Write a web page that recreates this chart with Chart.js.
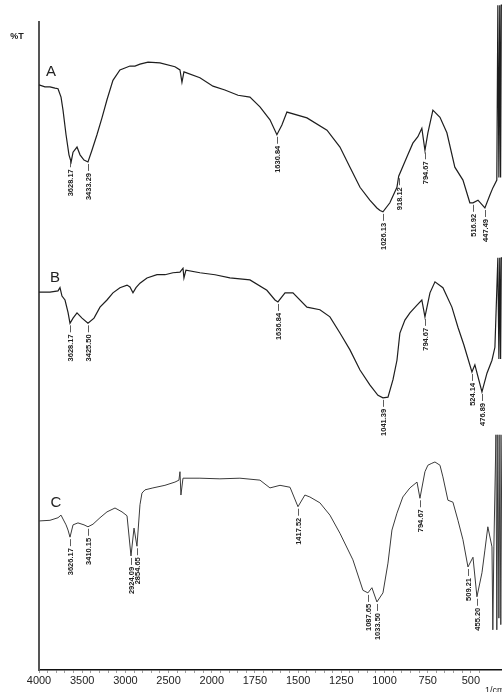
<!DOCTYPE html>
<html><head><meta charset="utf-8">
<script src="https://cdn.jsdelivr.net/npm/chart.js@4/dist/chart.umd.min.js"></script>
<style>html,body{margin:0;padding:0;background:#fff;overflow:hidden}#wrap{width:502px;height:692px;position:relative}</style>
</head><body><div id="wrap"><canvas id="c"></canvas></div>
<script>
// ---- data (wavenumber in 1/cm, transmittance in arbitrary %T units) ----
const majorTicks = [4000,3500,3000,2500,2000,1750,1500,1250,1000,750,500];
const seriesNames = ['A','B','C'];

const wnA = [4000,3931,3873,3815,3780,3745,3722,3687,3653,3628,3606,3560,3525,3479,3433,3387,3329,3271,3213,3144,3063,3005,2947,2889,2831,2738,2600,2426,2368,2345,2322,2137,1993,1924,1848,1779,1721,1663,1623,1594,1565,1449,1333,1258,1200,1142,1085,1044,1026,1009,969,928,918,870,836,807,784,766,749,720,679,639,593,546,506,488,459,419,390,373,350,344,338,333,328,324,320];
const tA  = [90.3,90.0,90.0,89.8,89.7,88.4,86.4,82.6,79.5,78.4,79.9,80.7,79.5,78.7,78.4,80.2,82.6,85.2,88.0,91.0,92.6,92.9,93.2,93.2,93.5,93.8,93.7,93.1,92.6,90.7,92.3,91.4,90.1,89.5,88.7,88.4,86.9,84.9,82.6,84.1,86.1,85.2,83.3,80.7,77.6,74.5,72.5,71.3,70.9,70.7,72.1,74.5,76.2,79.2,81.3,82.3,83.6,80.2,82.9,86.4,85.3,82.9,77.6,75.6,72.1,72.1,72.5,71.3,73.3,74.4,75.6,102.6,76.0,102.6,76.0,102.6,102.6];

const wnB = [4000,3873,3780,3757,3734,3699,3664,3641,3606,3560,3502,3433,3363,3294,3213,3144,3063,2981,2947,2912,2877,2831,2750,2634,2542,2449,2368,2333,2322,2299,2137,1981,1895,1779,1681,1634,1617,1576,1530,1449,1374,1316,1258,1200,1142,1085,1038,1009,980,951,928,911,882,853,812,784,766,737,708,662,610,575,541,494,477,436,407,378,361,344,338,333,328,324,320];
const tB  = [58.3,58.3,58.5,59.0,57.7,57.1,55.2,53.5,54.3,55.1,54.3,53.5,54.3,56.0,57.1,58.2,59.0,59.4,59.1,58.2,59.0,59.7,60.5,61.0,61.0,61.3,61.4,62.0,60.5,61.7,61.3,61.0,60.5,60.2,58.6,57.1,56.8,58.2,58.2,56.0,55.6,54.5,52.0,49.4,46.3,44.0,42.4,42.0,42.1,44.8,47.8,52.0,54.0,55.1,56.3,57.1,54.5,58.2,59.9,59.0,56.0,52.9,50.2,46.0,47.1,42.9,45.8,47.8,49.8,63.6,48.0,63.6,48.0,63.6,63.6];

const wnC = [4000,3873,3780,3745,3722,3687,3664,3641,3606,3549,3479,3433,3375,3294,3213,3120,3039,2981,2935,2900,2866,2831,2808,2773,2681,2542,2426,2380,2368,2357,2333,2137,1953,1837,1721,1663,1605,1547,1501,1461,1432,1374,1316,1258,1183,1125,1096,1073,1044,1009,980,957,928,894,853,812,795,766,749,726,708,679,662,633,604,575,546,517,488,465,436,419,402,378,373,367,355,350,344,338,332,327,321];
const tC  = [23.0,23.1,23.5,23.9,23.3,22.4,21.6,20.5,22.4,22.7,22.4,22.1,22.5,23.5,24.4,25.0,24.4,23.8,17.6,21.9,19.1,25.5,27.3,27.8,28.1,28.5,29.0,29.3,30.6,27.0,29.6,29.6,29.5,29.6,29.3,28.1,28.5,28.2,25.2,27.0,26.7,25.8,23.9,21.1,17.0,12.3,11.9,12.7,10.5,11.9,16.5,21.6,24.2,26.7,28.1,29.0,26.5,30.6,31.6,31.9,32.1,31.6,29.8,26.2,25.9,23.1,20.1,15.9,17.4,11.3,15.0,18.5,22.1,19.0,6.2,19.0,36.3,6.2,36.3,8.0,36.3,7.0,36.3];

// peak annotations: position on the trace (1/cm) and printed text
const peakWnA  = [3641,3433,1623,1009,918,766,488,419];
const peakTxtA = ['3628.17','3433.29','1630.84','1026.13','918.12','794.67','516.92','447.49'];
const peakWnB  = [3641,3433,1617,1009,766,494,436];
const peakTxtB = ['3628.17','3425.50','1636.84','1041.39','794.67','524.14','476.89'];
const peakWnC  = [3641,3433,2935,2866,1501,1096,1044,795,517,465];
const peakTxtC = ['3626.17','3410.15','2924.09','2854.65','1417.52','1087.65','1033.50','794.67','509.21','455.20'];

// ---- piecewise wavenumber axis (scale doubles below 2000 1/cm) ----
const POS = w => w >= 2000 ? 4000 - w : 2000 + 2 * (2000 - w);
const INV = p => p <= 2000 ? 4000 - p : 2000 - (p - 2000) / 2;

const mk = (wn, t) => wn.map((w, i) => ({x: POS(w), y: t[i]}));
const series = [
  {name: 'A', wn: wnA, t: tA, pw: peakWnA, pt: peakTxtA},
  {name: 'B', wn: wnB, t: tB, pw: peakWnB, pt: peakTxtB},
  {name: 'C', wn: wnC, t: tC, pw: peakWnC, pt: peakTxtC}
];
const seriesAnchor = {A: [3861, 92.3], B: [3815, 60.5], C: [3803, 25.8]};

function valueAt(s, w) {
  const p = POS(w);
  for (let i = 0; i < s.wn.length - 1; i++) {
    const p0 = POS(s.wn[i]), p1 = POS(s.wn[i+1]);
    if (p >= p0 && p <= p1) {
      const f = p1 === p0 ? 0 : (p - p0) / (p1 - p0);
      return s.t[i] + f * (s.t[i+1] - s.t[i]);
    }
  }
  return s.t[s.t.length - 1];
}

const annot = {
  id: 'annot',
  afterDatasetsDraw(chart) {
    const {ctx, chartArea, scales} = chart;
    const xs = scales.x, ys = scales.y;
    ctx.save();
    ctx.fillStyle = '#222';
    ctx.font = 'bold 9px "Liberation Sans", Arial, sans-serif';
    ctx.textAlign = 'center'; ctx.textBaseline = 'middle';
    ctx.fillText('%T', chartArea.left - 22, chartArea.top + 15);
    ctx.font = '9px "Liberation Sans", Arial, sans-serif';
    ctx.textAlign = 'left';
    ctx.fillText('1/cm', chartArea.left + 446, chartArea.bottom + 21);
    ctx.font = '15px "Liberation Sans", Arial, sans-serif';
    ctx.textAlign = 'center';
    for (const s of series) {
      const a = seriesAnchor[s.name];
      ctx.fillText(s.name, xs.getPixelForValue(POS(a[0])), ys.getPixelForValue(a[1]));
    }
    ctx.font = 'bold 7.5px "Liberation Sans", Arial, sans-serif';
    ctx.strokeStyle = '#333'; ctx.lineWidth = 0.8;
    for (const s of series) {
      s.pw.forEach((w, i) => {
        const px = Math.round(xs.getPixelForValue(POS(w))) + 0.5;
        const py = ys.getPixelForValue(valueAt(s, w));
        ctx.beginPath(); ctx.moveTo(px, py + 2); ctx.lineTo(px, py + 9); ctx.stroke();
        ctx.save();
        ctx.translate(px, py + 11);
        ctx.rotate(-Math.PI / 2);
        ctx.textAlign = 'right'; ctx.textBaseline = 'middle';
        ctx.fillText(s.pt[i], 0, 0);
        ctx.restore();
      });
    }
    ctx.restore();
  }
};

const tickList = [];
for (let w = 4000; w >= 2000; w -= 100) tickList.push(w);
for (let w = 1950; w >= 450; w -= 50) tickList.push(w);

new Chart(document.getElementById('c'), {
  type: 'line',
  data: {
    datasets: series.map((s, k) => ({
      label: s.name,
      data: mk(s.wn, s.t),
      borderColor: k === 2 ? '#3a3a3a' : '#1e1e1e',
      borderWidth: k === 2 ? 1 : 1.2,
      pointRadius: 0,
      tension: 0,
      fill: false,
      clip: false
    }))
  },
  options: {
    responsive: true,
    maintainAspectRatio: false,
    animation: false,
    layout: {padding: {top: 22, right: 0, bottom: 0, left: 0}},
    plugins: {legend: {display: false}, tooltip: {enabled: false}},
    scales: {
      x: {
        type: 'linear',
        min: POS(4000), max: POS(320),
        afterBuildTicks(scale) { scale.ticks = tickList.map(w => ({value: POS(w)})); },
        afterFit(scale) { scale.height = 22; },
        ticks: {
          autoSkip: false, maxRotation: 0, padding: 1,
          color: '#222',
          font: {family: '"Liberation Sans", Arial, sans-serif', size: 11},
          callback(v) { const w = Math.round(INV(v)); return majorTicks.includes(w) ? String(w) : ''; }
        },
        grid: {display: true, drawOnChartArea: false, drawTicks: true, tickLength: 3, color: '#888', lineWidth: 0.8},
        border: {display: true, color: '#111', width: 1.6}
      },
      y: {
        type: 'linear',
        min: 0, max: 100,
        afterFit(scale) { scale.width = 39; },
        ticks: {display: false},
        grid: {display: false},
        border: {display: true, color: '#555', width: 2}
      }
    }
  },
  plugins: [annot]
});
</script></body></html>
